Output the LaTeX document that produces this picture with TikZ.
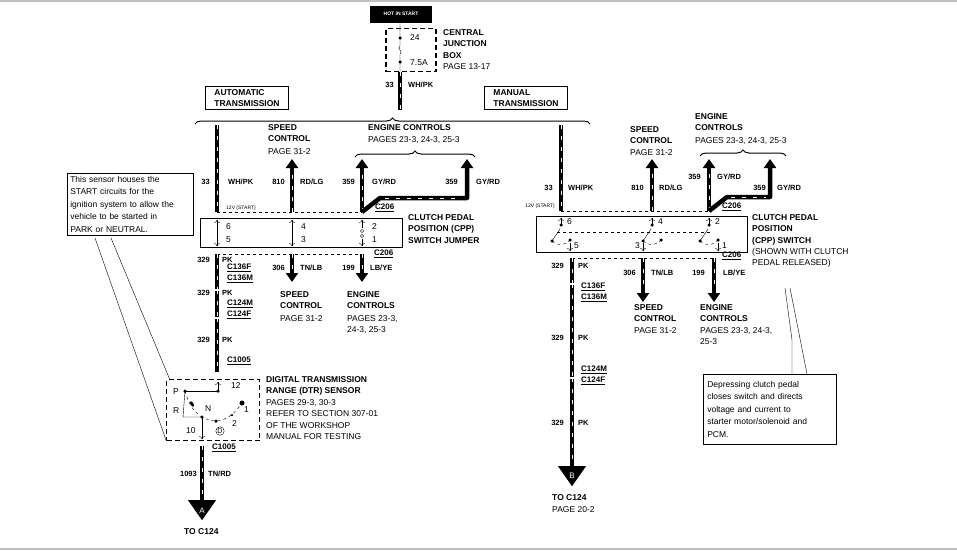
\documentclass[tikz,border=0pt]{standalone}
\usepackage{fontspec}
\setmainfont{Liberation Sans}
\usetikzlibrary{arrows.meta,decorations.pathreplacing,shapes.geometric}

\tikzset{
  wire/.style={line width=4.5pt},
  wirearrow/.style={line width=4.5pt,-{Triangle[width=12pt,length=9pt]}},
  stripe/.style={white,line width=1pt,dash pattern=on 4pt off 7pt},
  pin/.style={line width=0.4pt,{To[length=3pt,width=6pt]}-{To[length=3pt,width=6pt]}},
  bt/.style={font=\fontsize{8.5}{11.5}\selectfont\bfseries,anchor=north west,inner sep=0pt,align=left},
  nt/.style={font=\fontsize{8.5}{11.5}\selectfont,anchor=north west,inner sep=0pt,align=left},
  wt/.style={font=\fontsize{7.5}{8}\selectfont\bfseries,anchor=west,inner sep=0pt},
  ct/.style={font=\fontsize{8}{11}\selectfont\bfseries,anchor=north west,inner sep=0pt,align=left},
  dot/.style={circle,fill=black,inner sep=0pt,minimum size=3.5pt},
  box/.style={draw,line width=1.2pt},
  dbox/.style={draw,line width=1.2pt,dash pattern=on 5pt off 3pt},
  brc/.style={decorate,decoration={brace,amplitude=6pt},line width=1pt},
  tip/.style={fill=black,isosceles triangle,shape border rotate=-90,isosceles triangle apex angle=70,inner sep=0pt,minimum width=28pt,minimum height=20pt,anchor=north},
  note/.style={draw,anchor=north west,inner sep=3pt,line width=0.6pt,align=left,font=\fontsize{8.5}{12.5}\selectfont},
}

\begin{document}
\begin{tikzpicture}[x=1pt,y=-1pt]
\useasboundingbox (0,0) rectangle (957,554);

% Page rules
\draw[gray!50,line width=2pt] (0,1) -- (957,1);
\draw[gray!50,line width=2pt] (0,549) -- (957,549);

% Central junction box
\node[fill=black,text=white,font=\fontsize{5}{6}\selectfont\bfseries,minimum width=62pt,minimum height=17pt] (hot) at (401,14) {HOT IN START};
\node[dbox,minimum width=50pt,minimum height=43pt] (cjb) at (411,50) {};
\coordinate (f1) at (400,38);
\coordinate (f2) at (400,62);
\draw (hot.south -| f1) -- (f1) -- (400,46) .. controls (396,49) and (404,51) .. (400,54) -- (f2) -- (400,72);
\node[dot] at (f1) {}; \node[dot] at (f2) {};
\node[nt,anchor=west] at (410,38) {24};
\node[nt,anchor=west] at (410,63) {7.5A};
\node[bt] at (443,29) {CENTRAL\\JUNCTION\\BOX};
\node[nt] at (443,63) {PAGE 13-17};
\coordinate (feed) at (400,72);
\coordinate (split) at (400,110);
\draw[wire] (feed) -- (split); \draw[stripe] (feed) -- (split);
\node[wt,anchor=east] at (394,85) {33};
\node[wt] at (408,85) {WH/PK};

% Transmission titles and splice brace
\node[box,bt,anchor=center,inner sep=3pt,minimum width=83pt,minimum height=23pt,line width=0.8pt] (auto) at (247,98) {AUTOMATIC\\TRANSMISSION};
\node[box,bt,anchor=center,inner sep=3pt,minimum width=83pt,minimum height=23pt,line width=0.8pt] (man) at (526,98) {MANUAL\\TRANSMISSION};
\draw[brc] (195,124) -- (590,124);

% ---------------- Automatic side ----------------
\coordinate (a33t) at (217,125);
\coordinate (a33b) at (217,212);
\draw[wire] (a33t) -- (a33b); \draw[stripe] (a33t) -- (a33b);
\node[wt,anchor=east] at (210,182) {33};
\node[wt] at (228,182) {WH/PK};
\node[font=\fontsize{5}{6}\selectfont,anchor=south west,inner sep=0pt] at (226,211) {12V (START)};

\coordinate (a810b) at (292,212);
\coordinate (a810t) at (292,159);
\draw[wirearrow] (a810b) -- (a810t); \draw[stripe] (a810b) -- (292,170);
\node[wt,anchor=east] at (285,182) {810};
\node[wt] at (300,182) {RD/LG};
\node[bt] at (268,124) {SPEED\\CONTROL};
\node[nt] at (268,148) {PAGE 31-2};

\coordinate (a359b) at (362,212);
\coordinate (a359t) at (362,159);
\coordinate (a359r) at (467,159);
\draw[wirearrow] (a359b) -- (a359t); \draw[stripe] (a359b) -- (362,170);
\draw[wirearrow,line join=round] (a359b) -- (380,198) -- (467,198) -- (a359r);
\draw[stripe] (385,198) -- (462,198);
\node[wt,anchor=east] at (355,182) {359};
\node[wt] at (372,182) {GY/RD};
\node[wt,anchor=east] at (458,182) {359};
\node[wt] at (476,182) {GY/RD};
\draw[brc] (355,157) -- (475,157);
\node[bt] at (368,124) {ENGINE CONTROLS};
\node[nt] at (368,136) {PAGES 23-3, 24-3, 25-3};

\draw[dashed,line width=0.8pt] (a33b) -- (a359b);
\node[ct] at (375,204) {\underline{C206}};
\node[box,minimum width=202pt,minimum height=29pt,line width=1pt] (cppj) at (301,233) {};
\foreach \x/\t/\b in {217/6/5,292/4/3} {
  \draw[pin] (\x,220) -- (\x,246);
  \node[nt,anchor=west] at (\x+9,227) {\t};
  \node[nt,anchor=west] at (\x+9,240) {\b};
}
\draw[-{To[length=3pt,width=6pt]}] (362,228) -- (362,220);
\draw[-{To[length=3pt,width=6pt]}] (362,239) -- (362,246);
\draw (362,231) circle (1.6pt); \draw (362,236) circle (1.6pt);
\node[nt,anchor=west] at (372,227) {2};
\node[nt,anchor=west] at (372,240) {1};
\node[bt] at (408,214) {CLUTCH PEDAL\\POSITION (CPP)\\SWITCH JUMPER};
\coordinate (a329t) at (217,254);
\coordinate (a306t) at (292,254);
\coordinate (a199t) at (362,254);
\draw[dashed,line width=0.8pt] (a329t) -- (a199t);
\node[ct] at (374,250) {\underline{C206}};

\coordinate (a329m) at (217,290);
\coordinate (a329n) at (217,318);
\coordinate (a329b) at (217,372);
\draw[wire] (a329t) -- (a329m); \draw[stripe] (a329t) -- (a329m);
\draw[wire] (a329m) -- (a329n); \draw[stripe] (a329m) -- (a329n);
\draw[wire] (a329n) -- (a329b); \draw[stripe] (a329n) -- (a329b);
\foreach \y in {290,318} \draw[white,line width=1.5pt] (211,\y) -- (223,\y);
\node[wt,anchor=east] at (210,260) {329}; \node[wt] at (222,260) {PK};
\node[wt,anchor=east] at (210,293) {329}; \node[wt] at (222,293) {PK};
\node[wt,anchor=east] at (210,340) {329}; \node[wt] at (222,340) {PK};
\node[ct] at (227,264) {\underline{C136F}\\\underline{C136M}};
\node[ct] at (227,300) {\underline{C124M}\\\underline{C124F}};
\node[ct] at (227,357) {\underline{C1005}};

\coordinate (a306b) at (292,282);
\draw[wirearrow] (a306t) -- (a306b); \draw[stripe] (a306t) -- (292,272);
\node[wt,anchor=east] at (285,268) {306}; \node[wt] at (300,268) {TN/LB};
\node[bt] at (280,291) {SPEED\\CONTROL};
\node[nt] at (280,315) {PAGE 31-2};
\coordinate (a199b) at (362,282);
\draw[wirearrow] (a199t) -- (a199b); \draw[stripe] (a199t) -- (362,272);
\node[wt,anchor=east] at (355,268) {199}; \node[wt] at (370,268) {LB/YE};
\node[bt] at (347,291) {ENGINE\\CONTROLS};
\node[nt] at (347,315) {PAGES 23-3,\\24-3, 25-3};

% DTR sensor
\node[dbox,minimum width=93pt,minimum height=61pt] (dtr) at (213,410) {};
\coordinate (dP) at (185,391);
\coordinate (d12) at (218,391);
\coordinate (dN) at (202,417);
\draw[-{To[length=3pt,width=6pt]}] (d12) -- (218,382);
\draw (dP) -- (d12);
\draw (dP) -- (183,417) -- (dN);
\draw[dashed] (dP) .. controls (190,410) and (200,420) .. (216,421) .. controls (228,420) and (236,412) .. (242,403);
\node[dot] at (dP) {}; \node[dot] at (d12) {}; \node[dot] at (dN) {};
\node[dot] at (216,421) {}; \node[dot,minimum size=2.5pt] at (232,415) {};
\node[dot,minimum size=5pt] at (242,403) {};
\node[ellipse,fill=black,inner sep=0pt,minimum width=3pt,minimum height=6pt,rotate=30] at (192,404) {};
\draw[-{To[length=3pt,width=6pt]}] (dN) -- (202,439);
\node[nt,anchor=west] at (231,386) {12};
\node[nt,anchor=west] at (173,392) {P};
\node[nt,anchor=west] at (173,411) {R};
\node[nt,anchor=west] at (205,409) {N};
\node[nt,anchor=west] at (244,410) {1};
\node[nt,anchor=west] at (232,424) {2};
\node[nt,anchor=west] at (186,431) {10};
\node[draw,circle,inner sep=0.5pt,font=\fontsize{7}{8}\selectfont] at (220,431) {D};
\node[bt] at (266,376) {DIGITAL TRANSMISSION\\RANGE (DTR) SENSOR};
\node[nt] at (266,399) {PAGES 29-3, 30-3\\REFER TO SECTION 307-01\\OF THE WORKSHOP\\MANUAL FOR TESTING};
\node[ct] at (212,444) {\underline{C1005}};
\coordinate (a1093t) at (202,446);
\coordinate (a1093b) at (202,505);
\draw[wire] (a1093t) -- (a1093b); \draw[stripe] (a1093t) -- (a1093b);
\node[wt,anchor=east] at (197,474) {1093}; \node[wt] at (208,474) {TN/RD};
\node[tip] (ta) at (202,500) {};
\node[white,font=\fontsize{8}{9}\selectfont] at (202,511) {A};
\node[bt] at (184,528) {TO C124};

% Note for DTR
\node[note,text width=120pt] (nA) at (67,173) {This sensor houses the\\START circuits for the\\ignition system to allow the\\vehicle to be started in\\PARK or NEUTRAL.};
\draw (95,238) -- (166,440);
\draw (111,238) -- (170,380);

% ---------------- Manual side ----------------
\coordinate (m33t) at (561,125);
\coordinate (m33b) at (561,211);
\draw[wire] (m33t) -- (m33b); \draw[stripe] (m33t) -- (m33b);
\node[wt,anchor=east] at (553,188) {33}; \node[wt] at (568,188) {WH/PK};
\node[font=\fontsize{5}{6}\selectfont,anchor=east,inner sep=0pt] at (555,206) {12V (START)};

\coordinate (m810b) at (652,211);
\coordinate (m810t) at (652,159);
\draw[wirearrow] (m810b) -- (m810t); \draw[stripe] (m810b) -- (652,170);
\node[wt,anchor=east] at (644,188) {810}; \node[wt] at (659,188) {RD/LG};
\node[bt] at (630,126) {SPEED\\CONTROL};
\node[nt] at (630,149) {PAGE 31-2};

\coordinate (m359b) at (709,211);
\coordinate (m359t) at (709,159);
\coordinate (m359r) at (770,159);
\draw[wirearrow] (m359b) -- (m359t); \draw[stripe] (m359b) -- (709,170);
\draw[wirearrow,line join=round] (m359b) -- (727,197) -- (770,197) -- (m359r);
\draw[stripe] (731,197) -- (766,197);
\node[wt,anchor=east] at (701,177) {359}; \node[wt] at (717,177) {GY/RD};
\node[wt,anchor=east] at (766,188) {359}; \node[wt] at (777,188) {GY/RD};
\draw[brc] (700,156) -- (786,156);
\node[bt] at (695,113) {ENGINE\\CONTROLS};
\node[nt] at (695,137) {PAGES 23-3, 24-3, 25-3};

\draw[dashed,line width=0.8pt] (m33b) -- (m359b);
\node[ct] at (722,203) {\underline{C206}};
\node[box,minimum width=211pt,minimum height=36pt,line width=1pt] (cpps) at (641.5,234) {};
\draw[dashed] (557,232) -- (711,232);
\foreach \x/\t/\bx in {561/6/570,652/4/643,709/2/718} {
  \draw[-{To[length=3pt,width=6pt]}] (\x,225) -- (\x,218);
  \node[dot] at (\x,225) {};
  \node[dot] at (\x-9,241) {};
  \draw (\x-9,241) -- (\x-1,229);
  \draw[dashed] (\x-9,241) .. controls (\x-4,246) and (\x+4,246) .. (\x+9,240);
  \node[dot] at (\x+9,240) {};
  \draw[-{To[length=3pt,width=6pt]}] (\bx,243) -- (\bx,251);
  \node[nt,anchor=west] at (\x+6,222) {\t};
}
\node[nt,anchor=west] at (574,246) {5};
\node[nt,anchor=east] at (640,246) {3};
\node[nt,anchor=west] at (722,246) {1};
\node[bt] at (752,214) {CLUTCH PEDAL\\POSITION\\(CPP) SWITCH};
\node[nt] at (752,248) {(SHOWN WITH CLUTCH\\PEDAL RELEASED)};

\coordinate (m329t) at (572,258);
\coordinate (m306t) at (643,258);
\coordinate (m199t) at (714,258);
\draw[dashed,line width=0.8pt] (m329t) -- (m199t);
\node[ct] at (722,252) {\underline{C206}};

\coordinate (m329m) at (572,284);
\coordinate (m329n) at (572,378);
\coordinate (m329b) at (572,470);
\draw[wire] (m329t) -- (m329m); \draw[stripe] (m329t) -- (m329m);
\draw[wire] (m329m) -- (m329n); \draw[stripe] (m329m) -- (m329n);
\draw[wire] (m329n) -- (m329b); \draw[stripe] (m329n) -- (m329b);
\foreach \y in {284,378} \draw[white,line width=1.5pt] (566,\y) -- (578,\y);
\node[wt,anchor=east] at (564,266) {329}; \node[wt] at (578,266) {PK};
\node[wt,anchor=east] at (564,338) {329}; \node[wt] at (578,338) {PK};
\node[wt,anchor=east] at (564,423) {329}; \node[wt] at (578,423) {PK};
\node[ct] at (581,283) {\underline{C136F}\\\underline{C136M}};
\node[ct] at (581,366) {\underline{C124M}\\\underline{C124F}};
\node[tip] (tb) at (572,466) {};
\node[white,font=\fontsize{8}{9}\selectfont] at (572,476) {B};
\node[bt] at (552,494) {TO C124};
\node[nt] at (552,506) {PAGE 20-2};

\coordinate (m306b) at (643,302);
\draw[wirearrow] (m306t) -- (m306b); \draw[stripe] (m306t) -- (643,290);
\node[wt,anchor=east] at (636,273) {306}; \node[wt] at (651,273) {TN/LB};
\node[bt] at (634,304) {SPEED\\CONTROL};
\node[nt] at (634,327) {PAGE 31-2};
\coordinate (m199b) at (714,302);
\draw[wirearrow] (m199t) -- (m199b); \draw[stripe] (m199t) -- (714,290);
\node[wt,anchor=east] at (705,273) {199}; \node[wt] at (723,273) {LB/YE};
\node[bt] at (700,304) {ENGINE\\CONTROLS};
\node[nt] at (700,327) {PAGES 23-3, 24-3,\\25-3};

% Note for CPP switch
\node[note,text width=125pt,minimum height=70pt,inner sep=4pt] (nB) at (703,374) {Depressing clutch pedal\\closes switch and directs\\voltage and current to\\starter motor/solenoid and\\PCM.};
\draw (792,374) -- (792,340) -- (785,288);
\draw (807,374) -- (790,288);

\end{tikzpicture}
\end{document}
